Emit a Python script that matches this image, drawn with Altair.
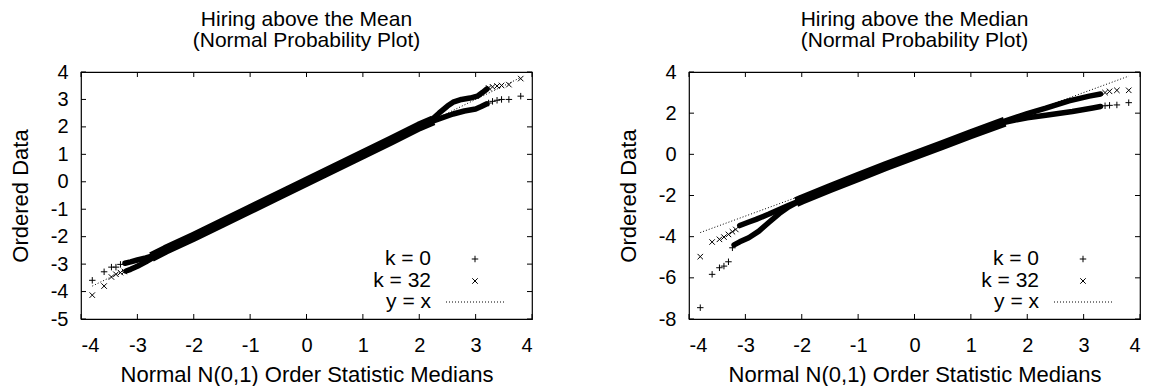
import altair as alt
import pandas as pd

FONT = "Liberation Sans"
PLUS = "M-1,0H1M0,-1V1"
CROSS = "M-1,-1L1,1M-1,1L1,-1"

# ---------------- shared axis values ----------------
x_ticks = [-4, -3, -2, -1, 0, 1, 2, 3, 4]
mean_y_ticks = [-5, -4, -3, -2, -1, 0, 1, 2, 3, 4]
median_y_ticks = [-8, -6, -4, -2, 0, 2, 4]
ref_x = [-3.8, 3.8]
ref_y = [-3.8, 3.8]
legend_labels = ["k = 0", "k = 32", "y = x"]

# ---------------- Panel 1: Hiring above the Mean ----------------
mean_band_x = [-2.75, -2.5, -2.0, -1.5, -1.0, -0.5, 0.0, 0.5, 1.0, 1.5, 2.0, 2.25]
mean_band_y = [-2.74, -2.48, -2.0, -1.5, -1.0, -0.5, 0.0, 0.5, 1.0, 1.5, 2.02, 2.24]

mean_k0_low_x = [-2.7, -2.85, -3.0, -3.12, -3.22]
mean_k0_low_y = [-2.68, -2.77, -2.85, -2.92, -2.97]
mean_k0_high_x = [2.2, 2.4, 2.6, 2.8, 3.0, 3.1, 3.2]
mean_k0_high_y = [2.18, 2.33, 2.47, 2.58, 2.65, 2.74, 2.84]
mean_k0_pts_x = [-3.80, -3.59, -3.46, -3.38, -3.30, 3.23, 3.30, 3.38, 3.46, 3.59, 3.80]
mean_k0_pts_y = [-3.59, -3.28, -3.11, -3.11, -3.01, 2.87, 2.93, 2.97, 3.00, 3.00, 3.12]

mean_k32_low_x = [-2.7, -2.85, -3.0, -3.12, -3.2]
mean_k32_low_y = [-2.74, -2.92, -3.08, -3.19, -3.25]
mean_k32_high_x = [2.2, 2.35, 2.5, 2.6, 2.75, 2.9, 3.03, 3.12, 3.2]
mean_k32_high_y = [2.22, 2.5, 2.76, 2.9, 3.0, 3.05, 3.12, 3.25, 3.38]
mean_k32_pts_x = [-3.80, -3.59, -3.46, -3.38, -3.30, -3.23, 3.23, 3.30, 3.38, 3.46, 3.59, 3.80]
mean_k32_pts_y = [-4.13, -3.80, -3.47, -3.37, -3.31, -3.27, 3.42, 3.46, 3.49, 3.51, 3.54, 3.76]

# ---------------- Panel 2: Hiring above the Median ----------------
median_band_x = [-2.1, -2.0, -1.5, -1.0, -0.5, 0.0, 0.5, 1.0, 1.6]
median_band_y = [-2.32, -2.2, -1.64, -1.1, -0.56, -0.05, 0.46, 0.98, 1.58]

median_k0_low_x = [-2.1, -2.23, -2.4, -2.58, -2.76, -2.94, -3.1, -3.2]
median_k0_low_y = [-2.36, -2.55, -2.88, -3.3, -3.73, -4.05, -4.25, -4.4]
median_k0_high_x = [1.6, 2.0, 2.33, 2.8, 3.16, 3.3]
median_k0_high_y = [1.56, 1.78, 1.9, 2.08, 2.25, 2.32]
median_k0_pts_x = [-3.80, -3.59, -3.46, -3.38, -3.30, -3.23, 3.38, 3.46, 3.59, 3.80]
median_k0_pts_y = [-7.45, -5.83, -5.51, -5.43, -5.22, -4.54, 2.36, 2.38, 2.40, 2.51]

median_k32_low_x = [-2.1, -2.25, -2.4, -2.58, -2.81, -2.95, -3.1]
median_k32_low_y = [-2.33, -2.5, -2.68, -2.9, -3.16, -3.3, -3.46]
median_k32_high_x = [1.6, 2.0, 2.33, 2.74, 3.1, 3.3]
median_k32_high_y = [1.62, 1.98, 2.24, 2.6, 2.83, 2.93]
median_k32_pts_x = [-3.80, -3.59, -3.46, -3.38, -3.30, -3.23, -3.17, 3.38, 3.46, 3.59, 3.80]
median_k32_pts_y = [-4.97, -4.26, -4.13, -4.02, -3.89, -3.76, -3.65, 3.00, 3.06, 3.11, 3.11]

W, H = 451, 247


def panel(title, y_dom, y_ticks, band, k0_low, k0_high, k32_low, k32_high, k0_pts, k32_pts):
    xs = alt.Scale(domain=[-4, 4], nice=False, zero=False)
    ys = alt.Scale(domain=y_dom, nice=False, zero=False)
    xax = alt.Axis(values=x_ticks, title="Normal N(0,1) Order Statistic Medians",
                   labelPadding=16, titlePadding=9, labelExpr="'' + datum.value")
    yax = alt.Axis(values=y_ticks, title="Ordered Data", labelPadding=13, titlePadding=18,
                   labelExpr="'' + datum.value")
    X = alt.X("x:Q", scale=xs, axis=xax)
    Y = alt.Y("y:Q", scale=ys, axis=yax)

    ref = alt.Chart(pd.DataFrame({"x": ref_x, "y": ref_y})).mark_line(
        color="black", strokeWidth=1, strokeDash=[1, 2]).encode(x=X, y=Y)

    band_l = alt.Chart(pd.DataFrame({"x": band[0], "y": band[1]})).mark_line(
        color="black", strokeWidth=10, strokeCap="butt", strokeJoin="round").encode(x=X, y=Y)

    segs = []
    for name, (sx, sy) in [("k0l", k0_low), ("k0h", k0_high), ("k32l", k32_low), ("k32h", k32_high)]:
        segs.append(pd.DataFrame({"x": sx, "y": sy, "seg": name}))
    branch = alt.Chart(pd.concat(segs)).mark_line(
        color="black", strokeWidth=5.5, strokeCap="round", strokeJoin="round").encode(
        x=X, y=Y, detail="seg:N")

    p0 = alt.Chart(pd.DataFrame({"x": k0_pts[0], "y": k0_pts[1]})).mark_point(
        shape=PLUS, size=42, color="black", strokeWidth=1, filled=False, opacity=1).encode(x=X, y=Y)
    p32 = alt.Chart(pd.DataFrame({"x": k32_pts[0], "y": k32_pts[1]})).mark_point(
        shape=CROSS, size=30, color="black", strokeWidth=1, filled=False, opacity=1).encode(x=X, y=Y)

    tx = pd.DataFrame({"x": x_ticks})
    ty = pd.DataFrame({"y": y_ticks})
    ticks = [
        alt.Chart(tx).mark_rule(color="black").encode(x=X, y=alt.value(0), y2=alt.value(5)),
        alt.Chart(tx).mark_rule(color="black").encode(x=X, y=alt.value(H), y2=alt.value(H - 5)),
        alt.Chart(ty).mark_rule(color="black").encode(y=Y, x=alt.value(0), x2=alt.value(5)),
        alt.Chart(ty).mark_rule(color="black").encode(y=Y, x=alt.value(W), x2=alt.value(W - 5)),
    ]

    leg = []
    ys_leg = [187, 209, 230]
    for lab, yy in zip(legend_labels, ys_leg):
        leg.append(alt.Chart(pd.DataFrame({"label": [lab]})).mark_text(
            align="right", baseline="middle", font=FONT, fontSize=21, color="black").encode(
            text="label:N", x=alt.value(350), y=alt.value(yy)))
    one = pd.DataFrame({"label": legend_labels[:1]})
    leg.append(alt.Chart(one).mark_point(shape=PLUS, size=42, color="black", strokeWidth=1,
                                         filled=False, opacity=1).encode(x=alt.value(394), y=alt.value(ys_leg[0])))
    leg.append(alt.Chart(one).mark_point(shape=CROSS, size=30, color="black", strokeWidth=1,
                                         filled=False, opacity=1).encode(x=alt.value(394), y=alt.value(ys_leg[1])))
    leg.append(alt.Chart(one).mark_rule(color="black", strokeWidth=1, strokeDash=[1, 2]).encode(
        x=alt.value(365), x2=alt.value(423), y=alt.value(ys_leg[2])))

    return alt.layer(ref, band_l, branch, p0, p32, *ticks, *leg).properties(
        width=W, height=H,
        title=alt.TitleParams(text=title, fontSize=21, font=FONT, fontWeight="normal",
                              anchor="middle", offset=11, lineHeight=21, color="black"))


left = panel(["Hiring above the Mean", "(Normal Probability Plot)"], [-5, 4], mean_y_ticks,
             (mean_band_x, mean_band_y), (mean_k0_low_x, mean_k0_low_y), (mean_k0_high_x, mean_k0_high_y),
             (mean_k32_low_x, mean_k32_low_y), (mean_k32_high_x, mean_k32_high_y),
             (mean_k0_pts_x, mean_k0_pts_y), (mean_k32_pts_x, mean_k32_pts_y))
right = panel(["Hiring above the Median", "(Normal Probability Plot)"], [-8, 4], median_y_ticks,
              (median_band_x, median_band_y), (median_k0_low_x, median_k0_low_y),
              (median_k0_high_x, median_k0_high_y),
              (median_k32_low_x, median_k32_low_y), (median_k32_high_x, median_k32_high_y),
              (median_k0_pts_x, median_k0_pts_y), (median_k32_pts_x, median_k32_pts_y))

chart = alt.hconcat(left, right, spacing=82).properties(
    padding={"left": 0, "top": 0, "right": 5, "bottom": 0}, background="white"
).configure_view(stroke="black", strokeWidth=1.2, strokeOpacity=1).configure_axis(
    labelFont=FONT, labelFontSize=20, labelColor="black",
    titleFont=FONT, titleFontSize=22, titleFontWeight="normal", titleColor="black",
    domain=False, ticks=False, tickSize=0, grid=False
)

chart.save("out.html", embed_options={"renderer": "svg", "actions": False})
